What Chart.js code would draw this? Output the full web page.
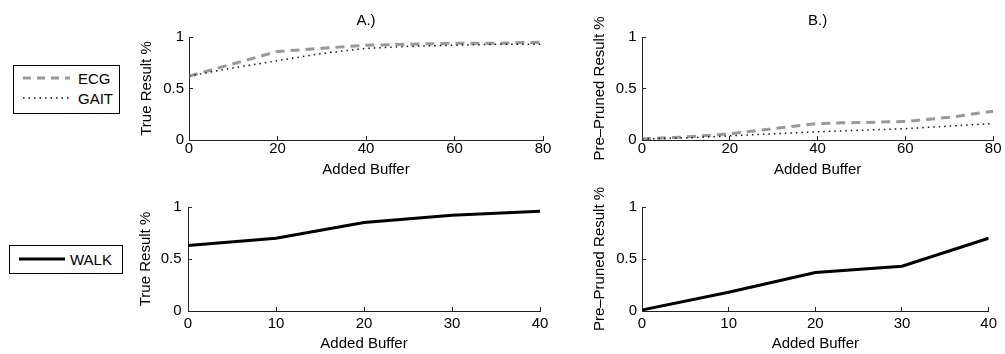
<!DOCTYPE html>
<html>
<head>
<meta charset="utf-8">
<script src="https://cdn.jsdelivr.net/npm/chart.js@4/dist/chart.umd.min.js"></script>
<style>
  body { margin: 0; background: #fff; }
  #page { position: relative; width: 1005px; height: 354px; font-family: "Liberation Sans", Arial, sans-serif; font-size: 15px; color: #000; }
  canvas { position: absolute; }
  .legend { position: absolute; box-sizing: border-box; border: 1px solid #000; background: #fff; }
  .legend svg, .legend span { position: absolute; line-height: 17px; }
</style>
</head>
<body>
<div id="page">
  <canvas id="chartA" width="440" height="182" style="left:130px;top:0px"></canvas>
  <canvas id="chartB" width="435" height="182" style="left:570px;top:0px"></canvas>
  <canvas id="chartC" width="440" height="172" style="left:130px;top:182px"></canvas>
  <canvas id="chartD" width="435" height="172" style="left:570px;top:182px"></canvas>

  <div class="legend" style="left:13px;top:65px;width:107px;height:49px">
    <svg style="left:9px;top:9px" width="47" height="6"><line x1="0" y1="3" x2="47" y2="3" stroke="#999" stroke-width="3" stroke-dasharray="8 6"/></svg>
    <span style="left:64px;top:4px">ECG</span>
    <svg style="left:9px;top:29px" width="47" height="6"><line x1="0" y1="3" x2="47" y2="3" stroke="#111" stroke-width="1.5" stroke-dasharray="1.5 4"/></svg>
    <span style="left:64px;top:24px">GAIT</span>
  </div>
  <div class="legend" style="left:9px;top:245px;width:114px;height:29px">
    <svg style="left:9px;top:10px" width="46" height="6"><line x1="0" y1="3" x2="46" y2="3" stroke="#000" stroke-width="3"/></svg>
    <span style="left:60px;top:5px">WALK</span>
  </div>
</div>

<script>
// buffer sizes on the x axes
const bufferTop = [0, 10, 20, 30, 40, 50, 60, 70, 80];
const bufferBottom = [0, 10, 20, 30, 40];

// A.) true result, B.) pre-pruned result
const ecgTrue = [0.62, 0.74, 0.86, 0.89, 0.92, 0.93, 0.94, 0.94, 0.95];
const gaitTrue = [0.62, 0.70, 0.77, 0.84, 0.89, 0.91, 0.92, 0.93, 0.93];
const ecgPruned = [0.01, 0.03, 0.06, 0.11, 0.16, 0.17, 0.18, 0.22, 0.28];
const gaitPruned = [0.01, 0.02, 0.04, 0.06, 0.08, 0.095, 0.11, 0.135, 0.16];

// walking data
const walkTrue = [0.63, 0.70, 0.85, 0.92, 0.96];
const walkPruned = [0.01, 0.18, 0.37, 0.43, 0.70];

const yTicks = [0, 0.5, 1];

Chart.defaults.font.family = '"Liberation Sans", Arial, sans-serif';
Chart.defaults.font.size = 15;
Chart.defaults.color = '#000';

function toPoints(xs, ys) {
  return xs.map((x, i) => ({ x: x, y: ys[i] }));
}

function ecgLine(xs, ys) {
  return { label: 'ECG', data: toPoints(xs, ys), borderColor: '#999', borderWidth: 3, borderDash: [9, 6], order: 1 };
}
function gaitLine(xs, ys) {
  return { label: 'GAIT', data: toPoints(xs, ys), borderColor: '#111', borderWidth: 1.5, borderDash: [1.5, 4], order: 0 };
}
function walkLine(xs, ys) {
  return { label: 'WALK', data: toPoints(xs, ys), borderColor: '#000', borderWidth: 3, order: 0 };
}

// matlab style axes: only left + bottom, ticks pointing inward
const axisGrid = { drawOnChartArea: false, drawTicks: true, tickLength: -4, color: '#222', lineWidth: 1 };
const axisBorder = { display: true, color: '#222', width: 1 };

function makePanel(id, datasets, p) {
  new Chart(document.getElementById(id), {
    type: 'line',
    data: { datasets: datasets },
    options: {
      responsive: false,
      animation: false,
      layout: { padding: { left: 0, right: p.padRight, top: p.padTop, bottom: 0 } },
      elements: { point: { radius: 0 }, line: { tension: 0, fill: false, borderCapStyle: 'butt' } },
      plugins: {
        legend: { display: false },
        tooltip: { enabled: false },
        title: {
          display: !!p.title,
          text: p.title,
          fullSize: false,
          color: '#000',
          font: { size: 15, weight: 'normal' },
          padding: { top: 12, bottom: 7 }
        }
      },
      scales: {
        x: {
          type: 'linear',
          min: 0,
          max: p.xMax,
          ticks: { stepSize: p.xStep, padding: p.xTickPad, maxRotation: 0 },
          grid: axisGrid,
          border: axisBorder,
          title: { display: true, text: 'Added Buffer', padding: { top: 0, bottom: p.xTitlePad } },
          afterFit: (s) => { s.height = p.xHeight; }
        },
        y: {
          min: 0,
          max: 1,
          afterBuildTicks: (s) => { s.ticks = yTicks.map(v => ({ value: v })); },
          ticks: { padding: p.yTickPad, callback: (v) => String(v) },
          grid: axisGrid,
          border: axisBorder,
          title: { display: true, text: p.yTitle, padding: { top: p.yTitlePad, bottom: 0 } },
          afterFit: (s) => { s.width = p.yWidth; }
        }
      }
    }
  });
}

makePanel('chartA', [ecgLine(bufferTop, ecgTrue), gaitLine(bufferTop, gaitTrue)], {
  title: 'A.)', yTitle: 'True Result %', xMax: 80, xStep: 20,
  padTop: 0, padRight: 27, yWidth: 59, yTitlePad: 8, yTickPad: 9,
  xHeight: 42, xTickPad: 3.5, xTitlePad: 3.5
});

makePanel('chartB', [ecgLine(bufferTop, ecgPruned), gaitLine(bufferTop, gaitPruned)], {
  title: 'B.)', yTitle: 'Pre\u2013Pruned Result %', xMax: 80, xStep: 20,
  padTop: 0, padRight: 9, yWidth: 72, yTitlePad: 21, yTickPad: 9.5,
  xHeight: 42, xTickPad: 3.5, xTitlePad: 3.5
});

makePanel('chartC', [walkLine(bufferBottom, walkTrue)], {
  title: '', yTitle: 'True Result %', xMax: 40, xStep: 10,
  padTop: 25, padRight: 30, yWidth: 58, yTitlePad: 7, yTickPad: 10.5,
  xHeight: 43, xTickPad: 8, xTitlePad: 1
});

makePanel('chartD', [walkLine(bufferBottom, walkPruned)], {
  title: '', yTitle: 'Pre\u2013Pruned Result %', xMax: 40, xStep: 10,
  padTop: 25, padRight: 10, yWidth: 72, yTitlePad: 21, yTickPad: 9,
  xHeight: 43, xTickPad: 8, xTitlePad: 1
});
</script>
</body>
</html>
